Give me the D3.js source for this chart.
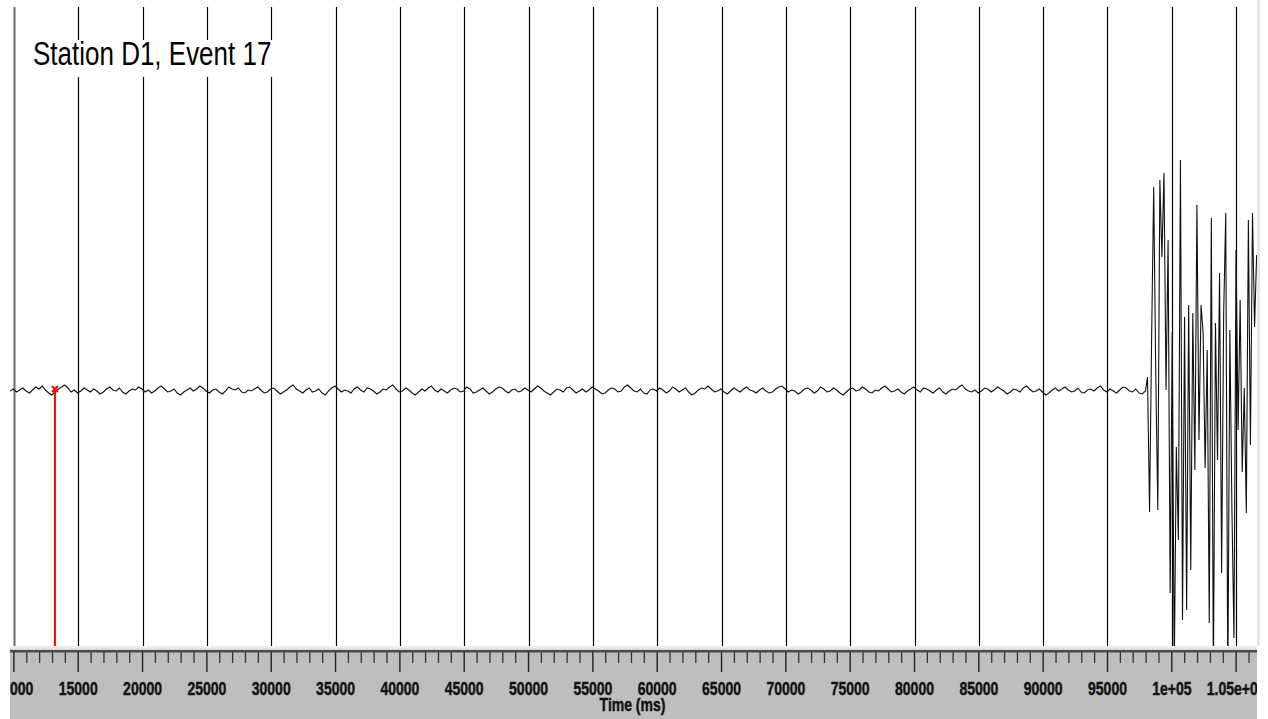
<!DOCTYPE html>
<html>
<head>
<meta charset="utf-8">
<script src="https://cdn.jsdelivr.net/npm/d3@7"></script>
<style>
  html, body { margin: 0; padding: 0; background: #fff; }
  svg { display: block; }
</style>
</head>
<body>
<svg id="chart" width="1268" height="719"></svg>
<script>
// ---------------- DATA ----------------
const chartTitle = "Station D1, Event 17";
const axisTitle = "Time (ms)";
const noiseStart = 9700;      // ms, time of first sample of the quiet part
const noiseStep = 250;        // ms between samples (quiet part)
// quiet part of the trace (amplitude, counts)
const noiseTrace = [
  0,2,-1,1,3,0,-2,1,4,2,5,1,-2,-4,-1,2,4,6,3,-1,
  1,-2,0,3,1,-1,2,0,-3,-1,2,4,1,0,3,-1,-3,0,2,1,
  4,2,-1,1,-2,0,3,5,2,-1,0,2,-2,-4,-1,1,3,0,2,5,
  3,0,-2,1,2,-1,-3,0,4,2,1,3,-1,-2,1,0,2,4,1,-2,
  -1,2,3,0,-3,-1,1,4,6,2,0,-2,1,3,-1,0,2,-2,-4,0,
  3,5,2,-1,1,0,-2,2,4,1,-1,3,2,0,-3,-1,2,1,4,6,
  2,-1,0,3,1,-2,-4,-1,2,0,3,5,1,-1,2,0,-2,1,3,2,
  -1,0,4,2,-2,-1,1,3,0,-3,-1,2,4,3,0,-2,1,2,-1,0,
  3,1,-1,2,5,3,0,-2,-4,-1,2,1,-1,3,4,1,-2,0,2,-1,
  1,4,2,0,-3,-2,1,3,2,-1,0,4,6,3,0,-1,2,-2,-3,1,
  2,0,3,1,-2,0,4,2,-1,1,3,-1,-4,-2,1,3,2,5,2,-1,
  0,2,-1,-3,0,3,1,-1,2,4,1,0,-2,1,3,0,-2,-1,2,4,
  5,2,-1,1,0,-3,-1,2,3,1,-2,0,4,2,-1,0,3,1,-2,-4,
  -1,2,3,0,1,4,2,-1,-2,1,0,3,5,2,-1,0,2,-1,-3,0,
  2,4,1,-1,3,2,0,-2,1,3,-1,-3,0,2,1,4,6,2,0,-1,
  1,-2,0,3,2,-1,1,4,2,0,-3,-1,2,1,-1,3,5,2,-1,0,
  2,-1,-4,-2,1,3,0,2,4,1,-1,0,3,-1,-2,1,2,0,3,5,
  1,-1,2,0,-2,1,4,3,0,-1,2,-2,-3
];
// strong-motion part of the trace
const burstStart = 97950;     // ms
const burstStep = 160;        // ms
const burstTrace = [
  0,14,-121,54,204,18,-119,211,134,218,1,151,-202,59,-280,-56,
  -149,231,-229,74,-219,86,-179,78,-79,186,-49,86,59,-77,41,-232,
  173,-290,68,-69,118,-182,78,178,-300,61,-117,-247,141,-39,91,-81,
  3,-122,171,-54,178,64,136
];
const tickValues = [10000,15000,20000,25000,30000,35000,40000,45000,50000,55000,
  60000,65000,70000,75000,80000,85000,90000,95000,100000,105000];
const tickLabels = ["10000","15000","20000","25000","30000","35000","40000","45000","50000","55000",
  "60000","65000","70000","75000","80000","85000","90000","95000","1e+05","1.05e+05"];
const minorTickValues = d3.range(10000, 106001, 1000);
const pickTimes = [13190];
const pickAmplitudes = [3];

// ---------------- LAYOUT ----------------
const W = 1268, H = 719;
const plotL = 10, plotR = 1257, plotT = 0, plotB = 646;
const gridTop = 7;
const bandT = 646;

const svg = d3.select("#chart");

const x = d3.scaleLinear().domain([9697, 106620]).range([plotL, plotR]);
const y = d3.scaleLinear().domain([-255, 391]).range([plotB, plotT]);

const trace = noiseTrace.map((v, i) => ({t: noiseStart + i * noiseStep, v}))
  .concat(burstTrace.map((v, i) => ({t: burstStart + i * burstStep, v})));

const defs = svg.append("defs");
defs.append("clipPath").attr("id", "plotClip")
  .append("rect").attr("x", plotL).attr("y", plotT).attr("width", plotR - plotL).attr("height", plotB - plotT);
defs.append("clipPath").attr("id", "bandClip")
  .append("rect").attr("x", plotL).attr("y", bandT).attr("width", plotR - plotL).attr("height", H - bandT);
const grad = defs.append("linearGradient").attr("id", "bandTop").attr("x1", 0).attr("x2", 0).attr("y1", 0).attr("y2", 1);
grad.append("stop").attr("offset", "0%").attr("stop-color", "#f4f4f4");
grad.append("stop").attr("offset", "100%").attr("stop-color", "#d6d6d6");

// right border strip of the plot
svg.append("rect").attr("x", plotR).attr("y", 0).attr("width", 3).attr("height", bandT)
  .attr("fill", "#e6e6e6");

// vertical grid lines at major ticks
svg.append("g").attr("clip-path", "url(#plotClip)")
  .selectAll("line").data(tickValues).join("line")
  .attr("x1", d => Math.round(x(d)) + 0.5).attr("x2", d => Math.round(x(d)) + 0.5)
  .attr("y1", gridTop).attr("y2", plotB)
  .attr("stroke", (d, i) => i === 0 ? "#6a6a6a" : "#000")
  .attr("stroke-width", (d, i) => i === 0 ? 2 : 1.2);

// waveform
svg.append("path").datum(trace)
  .attr("clip-path", "url(#plotClip)")
  .attr("fill", "none").attr("stroke", "#111").attr("stroke-width", 1.1)
  .attr("stroke-linejoin", "miter")
  .attr("d", d3.line().x(d => x(d.t)).y(d => y(d.v)));

// pick marker(s)
const picks = svg.append("g").attr("clip-path", "url(#plotClip)");
picks.selectAll("line.pick").data(pickTimes).join("line").attr("class", "pick")
  .attr("x1", d => x(d)).attr("x2", d => x(d))
  .attr("y1", (d, i) => y(pickAmplitudes[i])).attr("y2", plotB)
  .attr("stroke", "#f00").attr("stroke-width", 2);
picks.selectAll("path.pickx").data(pickTimes).join("path").attr("class", "pickx")
  .attr("d", (d, i) => {
    const cx = x(d), cy = y(pickAmplitudes[i]) + 1, s = 3;
    return `M${cx - s},${cy - s}L${cx + s},${cy + s}M${cx + s},${cy - s}L${cx - s},${cy + s}`;
  })
  .attr("stroke", "#f00").attr("stroke-width", 2).attr("fill", "none");

// title with white backing box
svg.append("rect").attr("x", 30).attr("y", 40).attr("width", 250).attr("height", 37).attr("fill", "#fff");
svg.append("text")
  .attr("transform", "translate(33,65) scale(1,1.3)")
  .attr("font-family", "'Liberation Sans', Arial, Helvetica, sans-serif")
  .attr("font-size", 26).attr("fill", "#000")
  .text(chartTitle);

// axis band
const band = svg.append("g");
band.append("rect").attr("x", plotL).attr("y", bandT).attr("width", plotR - plotL).attr("height", H - bandT)
  .attr("fill", "#bebebe");
band.append("rect").attr("x", plotL).attr("y", bandT).attr("width", plotR - plotL).attr("height", 4)
  .attr("fill", "url(#bandTop)");
band.append("rect").attr("x", plotL).attr("y", 650).attr("width", plotR - plotL).attr("height", 2.5)
  .attr("fill", "#4a4a4a");

const axisG = band.append("g").attr("clip-path", "url(#bandClip)");
axisG.selectAll("line.minor").data(minorTickValues.filter(v => v % 5000 !== 0)).join("line")
  .attr("class", "minor")
  .attr("x1", d => x(d)).attr("x2", d => x(d)).attr("y1", 652).attr("y2", 663)
  .attr("stroke", "#333").attr("stroke-width", 1.3);
axisG.selectAll("line.major").data(tickValues).join("line")
  .attr("class", "major")
  .attr("x1", d => x(d)).attr("x2", d => x(d)).attr("y1", 652).attr("y2", 672)
  .attr("stroke", "#222").attr("stroke-width", 1.4);
axisG.selectAll("text.tick").data(tickValues).join("text")
  .attr("class", "tick")
  .attr("transform", d => `translate(${x(d)},695) scale(1,1.3)`)
  .attr("text-anchor", "middle")
  .attr("font-family", "'Liberation Sans', Arial, Helvetica, sans-serif")
  .attr("font-weight", "bold").attr("font-size", 14).attr("fill", "#111")
  .attr("stroke", "#111").attr("stroke-width", 0.35)
  .text((d, i) => tickLabels[i]);
axisG.append("text")
  .attr("transform", `translate(${(plotL + plotR) / 2 - 1},711) scale(1,1.3)`)
  .attr("text-anchor", "middle")
  .attr("font-family", "'Liberation Sans', Arial, Helvetica, sans-serif")
  .attr("font-weight", "bold").attr("font-size", 14).attr("fill", "#111")
  .attr("stroke", "#111").attr("stroke-width", 0.35)
  .text(axisTitle);
</script>
</body>
</html>
